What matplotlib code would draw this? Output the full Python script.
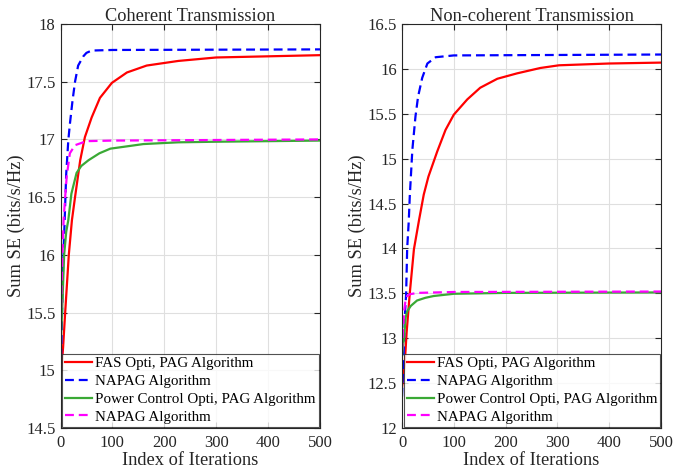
import matplotlib
matplotlib.use('Agg')
from matplotlib import pyplot as plt
from matplotlib.ticker import FormatStrFormatter
import numpy as np

plt.rcParams['font.family'] = ['Liberation Serif', 'DejaVu Serif']

# coherent transmission
coh_fas_x = [0, 5, 9, 16, 22, 28, 38, 47, 60, 76, 99, 128, 166, 227, 300, 400, 500]
coh_fas_y = [14.9, 15.2, 15.5, 16.0, 16.3, 16.5, 16.82, 17.02, 17.19, 17.36, 17.49, 17.58, 17.64, 17.68, 17.71, 17.72, 17.73]
coh_napag1_x = [0, 2, 5, 8, 11, 15, 18, 23, 28, 34, 44, 50, 60, 100, 500]
coh_napag1_y = [14.87, 15.3, 15.9, 16.3, 16.7, 16.99, 17.13, 17.33, 17.5, 17.64, 17.72, 17.75, 17.77, 17.775, 17.78]
coh_pc_x = [0, 3, 7, 11, 15, 21, 31, 40, 54, 75, 96, 160, 227, 300, 500]
coh_pc_y = [15.2, 15.5, 16.0, 16.2, 16.3, 16.53, 16.71, 16.77, 16.82, 16.88, 16.92, 16.96, 16.975, 16.98, 16.99]
coh_napag2_x = [0, 2, 4, 6, 9, 12, 18, 28, 50, 100, 500]
coh_napag2_y = [15.3, 15.7, 16.05, 16.3, 16.5, 16.68, 16.88, 16.95, 16.985, 16.99, 17.0]

# non-coherent transmission
nc_fas_x = [0, 5, 9, 15, 23, 33, 42, 51, 68, 84, 100, 126, 151, 184, 222, 267, 303, 400, 500]
nc_fas_y = [12.45, 12.69, 13.07, 13.5, 13.99, 14.32, 14.6, 14.8, 15.08, 15.32, 15.49, 15.66, 15.79, 15.89, 15.95, 16.01, 16.04, 16.06, 16.07]
nc_napag1_x = [0, 3, 6, 8, 10, 13, 15, 20, 26, 31, 39, 49, 65, 100, 500]
nc_napag1_y = [12.35, 12.8, 13.3, 13.5, 14.0, 14.3, 14.58, 15.1, 15.47, 15.69, 15.90, 16.06, 16.13, 16.15, 16.16]
nc_pc_x = [0, 4, 7, 10, 17, 29, 45, 61, 100, 200, 500]
nc_pc_y = [12.8, 13.01, 13.23, 13.3, 13.36, 13.42, 13.45, 13.47, 13.495, 13.505, 13.51]
nc_napag2_x = [0, 2, 4, 7, 10, 15, 30, 100, 500]
nc_napag2_y = [12.85, 13.1, 13.3, 13.43, 13.47, 13.49, 13.505, 13.515, 13.52]

labels = ['FAS Opti, PAG Algorithm', 'NAPAG Algorithm',
          'Power Control Opti, PAG Algorithm', 'NAPAG Algorithm']

fig = plt.figure(figsize=(6.74, 4.76), dpi=100)
ax1 = fig.add_axes([60.5/674, 48/476, 259.5/674, 404/476])
ax2 = fig.add_axes([402/674, 48/476, 259/674, 404/476])

def draw(ax, series, ylim, yticks, title):
    cols = ['#ff0000', '#0000ff', '#3aa935', '#ff00ff']
    styles = ['-', '--', '-', '--']
    for (x, y), c, s, lab in zip(series, cols, styles, labels):
        ln, = ax.plot(x, y, color=c, ls=s, lw=1.6, label=lab)
        if s == '--':
            ln.set_dashes((4, 2.2))
    ax.set_xlim(0, 500)
    ax.set_ylim(*ylim)
    ax.set_xticks([0, 100, 200, 300, 400, 500])
    ax.set_yticks(yticks)
    ax.yaxis.set_major_formatter(FormatStrFormatter('%g'))
    ax.grid(True, color='#dfdfdf', lw=0.8)
    ax.set_axisbelow(True)
    ax.tick_params(direction='in', top=True, right=True, labelsize=12,
                   colors='#262626', length=4)
    ax.tick_params(axis='x', pad=5)
    for sp in ax.spines.values():
        sp.set_color('#262626')
        sp.set_linewidth(0.8)
    ax.set_xlabel('Index of Iterations', fontsize=13.2, color='#262626', labelpad=1)
    ax.set_ylabel('Sum SE (bits/s/Hz)', fontsize=13.2, color='#262626', labelpad=1)
    ax.set_title(title, fontsize=13.2, color='#262626', pad=2)
    leg = ax.legend(loc='lower left', fontsize=10.8, frameon=True, fancybox=False,
                    edgecolor='#262626', borderaxespad=0.1, handlelength=1.8,
                    handletextpad=0.2, labelspacing=0.28, borderpad=0.2)
    leg.get_frame().set_linewidth(0.8)

draw(ax1, [(coh_fas_x, coh_fas_y), (coh_napag1_x, coh_napag1_y),
           (coh_pc_x, coh_pc_y), (coh_napag2_x, coh_napag2_y)],
     (14.5, 18), np.arange(14.5, 18.01, 0.5), 'Coherent Transmission')
draw(ax2, [(nc_fas_x, nc_fas_y), (nc_napag1_x, nc_napag1_y),
           (nc_pc_x, nc_pc_y), (nc_napag2_x, nc_napag2_y)],
     (12, 16.5), np.arange(12, 16.51, 0.5), 'Non-coherent Transmission')

fig.savefig('out.png', dpi=100)
